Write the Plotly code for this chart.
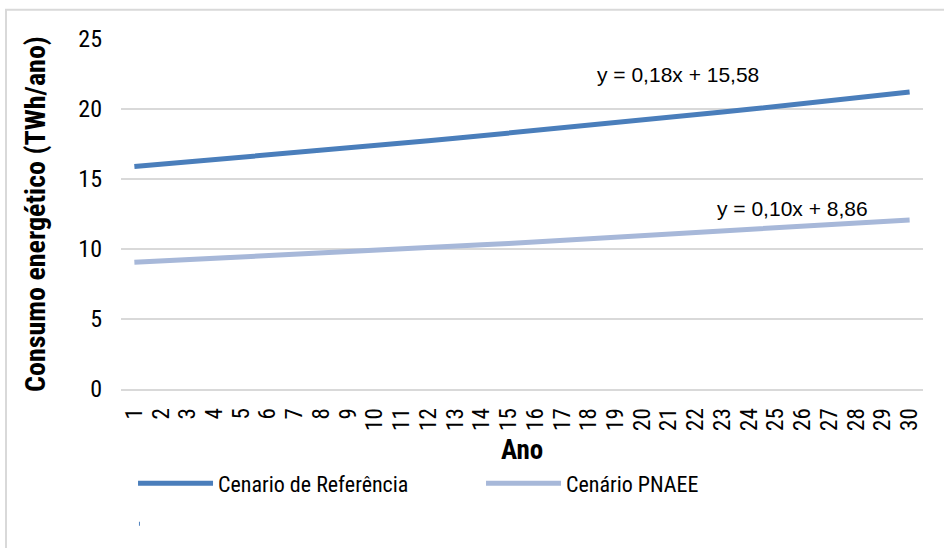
import plotly.graph_objects as go

# Years of the projection horizon
anos = list(range(1, 31))
rotulos_anos = [str(a) for a in anos]

# Energy consumption (TWh/ano) for each scenario
cenario_referencia = [
    15.89, 16.05, 16.21, 16.37, 16.54, 16.70, 16.87, 17.04, 17.21, 17.38,
    17.55, 17.73, 17.91, 18.09, 18.27, 18.45, 18.63, 18.82, 19.01, 19.20,
    19.39, 19.58, 19.78, 19.98, 20.18, 20.38, 20.58, 20.79, 21.00, 21.21,
]
cenario_pnaee = [
    9.05, 9.14, 9.23, 9.32, 9.42, 9.51, 9.61, 9.70, 9.80, 9.90,
    10.00, 10.10, 10.20, 10.30, 10.40, 10.51, 10.61, 10.72, 10.82, 10.93,
    11.04, 11.15, 11.27, 11.38, 11.49, 11.61, 11.72, 11.84, 11.96, 12.08,
]

# Trendline equations shown next to the lines
eq_referencia = "y = 0,18x + 15,58"
eq_pnaee = "y = 0,10x + 8,86"

y_ticks = [0, 5, 10, 15, 20, 25]

COND = "Liberation Sans Narrow, Arial Narrow, Roboto Condensed, Liberation Sans, sans-serif"
REG = "Liberation Sans, Arial, sans-serif"
GRID = "#d9d9d9"

fig = go.Figure()
fig.add_trace(go.Scatter(
    x=rotulos_anos, y=cenario_referencia, mode="lines",
    name="Cenario de Referência", line=dict(color="#4a7ebb", width=5),
))
fig.add_trace(go.Scatter(
    x=rotulos_anos, y=cenario_pnaee, mode="lines",
    name="Cenário PNAEE", line=dict(color="#a7b8d9", width=5),
))

fig.add_annotation(x=0.591, y=0.898, xref="paper", yref="paper",
                   text=eq_referencia, showarrow=False,
                   xanchor="left", yanchor="middle",
                   font=dict(family=REG, size=21, color="#000"))
fig.add_annotation(x=0.7406, y=0.517, xref="paper", yref="paper",
                   text=eq_pnaee, showarrow=False,
                   xanchor="left", yanchor="middle",
                   font=dict(family=REG, size=21, color="#000"))

# Outer chart frame
fig.add_shape(type="rect", xref="paper", yref="paper",
              x0=-0.1434, x1=1.05, y0=-0.6, y1=1.0839,
              line=dict(color=GRID, width=2), layer="below")
# Leftover legend marker
fig.add_shape(type="line", xref="paper", yref="paper",
              x0=0.0224, x1=0.0236, y0=-0.385, y1=-0.385,
              line=dict(color="#4a7ebb", width=4))

fig.update_layout(
    width=944, height=548,
    margin=dict(l=121, r=21, t=39, b=159),
    paper_bgcolor="white", plot_bgcolor="white",
    font=dict(family=COND, size=22, color="#000"),
    showlegend=True,
    legend=dict(orientation="h", x=0.015, xanchor="left", y=-0.27, yanchor="middle",
                itemwidth=75, entrywidth=258, font=dict(family=COND, size=22),
                bgcolor="rgba(0,0,0,0)"),
    xaxis=dict(
        type="category", range=[-0.5, 29.5],
        tickmode="array", tickvals=rotulos_anos, ticktext=rotulos_anos,
        tickangle=-90, showgrid=False, showline=True, linecolor=GRID, linewidth=2,
        ticks="", ticklabelstandoff=8, tickfont=dict(family=COND, size=23),
        title=dict(text="<b>Ano</b>", font=dict(family=COND, size=27), standoff=10),
    ),
    yaxis=dict(
        range=[0, 25], tickvals=y_ticks, showgrid=True, gridcolor=GRID, gridwidth=2,
        zeroline=False, showline=False, ticks="", ticklabelstandoff=18,
        tickfont=dict(family=COND, size=24),
        title=dict(text="<b>Consumo energético (TWh/ano)</b>", font=dict(family=COND, size=28), standoff=24),
    ),
)

fig.write_html("out.html")
